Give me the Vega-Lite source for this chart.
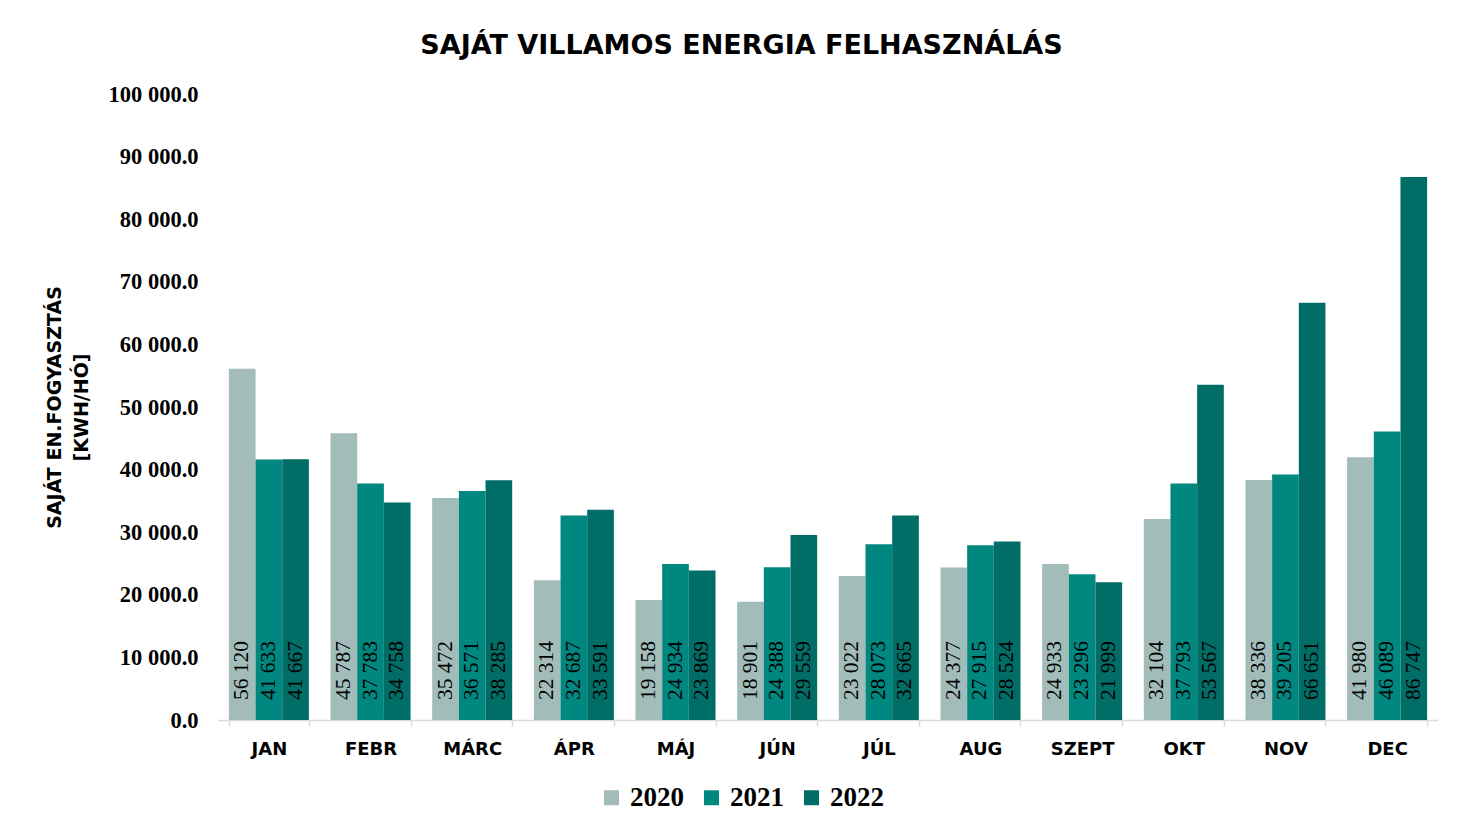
{
  "$schema": "https://vega.github.io/schema/vega-lite/v6.json",
  "autosize": "none",
  "width": 1220,
  "height": 626,
  "padding": {"left": 218, "top": 94, "right": 40, "bottom": 115},
  "background": "#ffffff",
  "config": {
    "locale": {"number": {"decimal": ".", "thousands": " ", "grouping": [3], "currency": ["", ""]}},
    "view": {"stroke": null}
  },
  "title": {
    "text": "SAJÁT VILLAMOS ENERGIA FELHASZNÁLÁS",
    "font": "DejaVu Sans",
    "fontWeight": "bold",
    "fontSize": 27,
    "color": "#000000",
    "anchor": "middle",
    "frame": "bounds",
    "offset": 23
  },
  "data": {
    "values": [
      {"month": "JAN", "year": "2020", "kwh": 56120}, {"month": "JAN", "year": "2021", "kwh": 41633}, {"month": "JAN", "year": "2022", "kwh": 41667},
      {"month": "FEBR", "year": "2020", "kwh": 45787}, {"month": "FEBR", "year": "2021", "kwh": 37783}, {"month": "FEBR", "year": "2022", "kwh": 34758},
      {"month": "MÁRC", "year": "2020", "kwh": 35472}, {"month": "MÁRC", "year": "2021", "kwh": 36571}, {"month": "MÁRC", "year": "2022", "kwh": 38285},
      {"month": "ÁPR", "year": "2020", "kwh": 22314}, {"month": "ÁPR", "year": "2021", "kwh": 32687}, {"month": "ÁPR", "year": "2022", "kwh": 33591},
      {"month": "MÁJ", "year": "2020", "kwh": 19158}, {"month": "MÁJ", "year": "2021", "kwh": 24934}, {"month": "MÁJ", "year": "2022", "kwh": 23869},
      {"month": "JÚN", "year": "2020", "kwh": 18901}, {"month": "JÚN", "year": "2021", "kwh": 24388}, {"month": "JÚN", "year": "2022", "kwh": 29559},
      {"month": "JÚL", "year": "2020", "kwh": 23022}, {"month": "JÚL", "year": "2021", "kwh": 28073}, {"month": "JÚL", "year": "2022", "kwh": 32665},
      {"month": "AUG", "year": "2020", "kwh": 24377}, {"month": "AUG", "year": "2021", "kwh": 27915}, {"month": "AUG", "year": "2022", "kwh": 28524},
      {"month": "SZEPT", "year": "2020", "kwh": 24933}, {"month": "SZEPT", "year": "2021", "kwh": 23296}, {"month": "SZEPT", "year": "2022", "kwh": 21999},
      {"month": "OKT", "year": "2020", "kwh": 32104}, {"month": "OKT", "year": "2021", "kwh": 37793}, {"month": "OKT", "year": "2022", "kwh": 53567},
      {"month": "NOV", "year": "2020", "kwh": 38336}, {"month": "NOV", "year": "2021", "kwh": 39205}, {"month": "NOV", "year": "2022", "kwh": 66651},
      {"month": "DEC", "year": "2020", "kwh": 41980}, {"month": "DEC", "year": "2021", "kwh": 46089}, {"month": "DEC", "year": "2022", "kwh": 86747}
    ]
  },
  "encoding": {
    "x": {
      "field": "month",
      "type": "nominal",
      "sort": ["JAN", "FEBR", "MÁRC", "ÁPR", "MÁJ", "JÚN", "JÚL", "AUG", "SZEPT", "OKT", "NOV", "DEC"],
      "scale": {"paddingInner": 0.213, "paddingOuter": 0.107},
      "axis": {
        "title": null,
        "labelAngle": 0,
        "labelFont": "DejaVu Sans",
        "labelFontWeight": "bold",
        "labelFontSize": 18,
        "labelColor": "#000000",
        "labelPadding": 14,
        "domainColor": "#d9d9d9",
        "domainWidth": 1.5,
        "tickColor": "#d9d9d9",
        "tickWidth": 1.5,
        "tickSize": 6,
        "tickBand": "extent",
        "grid": false
      }
    },
    "xOffset": {"field": "year", "type": "nominal", "scale": {"paddingInner": 0, "paddingOuter": 0}},
    "y": {
      "field": "kwh",
      "type": "quantitative",
      "scale": {"domain": [0, 100000], "nice": false},
      "axis": {
        "title": ["SAJÁT EN.FOGYASZTÁS", "[KWH/HÓ]"],
        "titleFont": "DejaVu Sans",
        "titleFontWeight": "bold",
        "titleFontSize": 19,
        "titleColor": "#000000",
        "titlePadding": 17,
        "titleLineHeight": 27,
        "values": [0, 10000, 20000, 30000, 40000, 50000, 60000, 70000, 80000, 90000, 100000],
        "format": ",.1f",
        "labelFont": "Liberation Serif",
        "labelFontWeight": "bold",
        "labelFontSize": 22.5,
        "labelColor": "#000000",
        "labelPadding": 20,
        "ticks": false,
        "domain": false,
        "grid": false
      }
    }
  },
  "layer": [
    {
      "mark": {"type": "bar"},
      "encoding": {
        "color": {
          "field": "year",
          "type": "nominal",
          "scale": {"domain": ["2020", "2021", "2022"], "range": ["#a2bcba", "#00877f", "#006d66"]},
          "legend": {
            "title": null,
            "orient": "none",
            "direction": "horizontal",
            "legendX": 380,
            "legendY": 690,
            "symbolType": "square",
            "symbolSize": 225,
            "symbolStrokeWidth": 0,
            "symbolOpacity": 1,
            "labelFont": "Liberation Serif",
            "labelFontWeight": "bold",
            "labelFontSize": 27,
            "labelColor": "#000000",
            "labelOffset": 5,
            "columnPadding": 14
          }
        }
      }
    },
    {
      "mark": {"type": "text", "angle": 270, "align": "left", "baseline": "middle", "dx": 20, "font": "Liberation Serif", "fontSize": 21.5, "color": "#000000"},
      "encoding": {
        "y": {"datum": 0},
        "text": {"field": "kwh", "type": "quantitative", "format": ",d"}
      }
    }
  ]
}
